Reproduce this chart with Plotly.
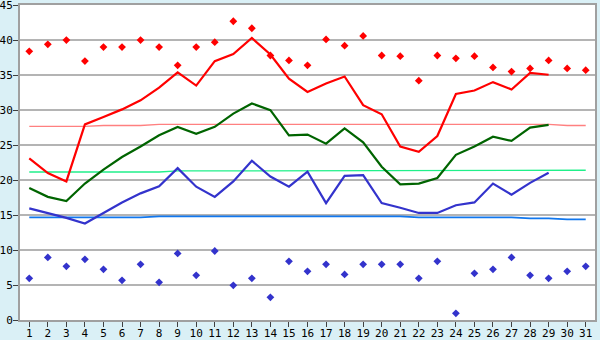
import plotly.graph_objects as go

days = list(range(1, 32))

max_temp = [38.4, 39.4, 40.0, 37.0, 39.0, 39.0, 40.0, 39.0, 36.4, 39.0,
            39.7, 42.7, 41.7, 37.8, 37.1, 36.4, 40.1, 39.2, 40.6, 37.8,
            37.7, 34.2, 37.8, 37.4, 37.7, 36.1, 35.5, 35.95, 37.1, 35.95, 35.7]
min_temp = [5.95, 8.95, 7.67, 8.67, 7.24, 5.67, 7.95, 5.38, 9.52, 6.38,
            9.86, 4.95, 5.95, 3.24, 8.38, 6.95, 7.95, 6.52, 7.95, 7.95,
            7.95, 5.95, 8.38, 0.95, 6.67, 7.24, 8.95, 6.38, 5.95, 6.95, 7.67]
day_max = [23.1, 21.0, 19.8, 27.95, 29.0, 30.1, 31.4, 33.2, 35.4, 33.5,
           37.0, 38.0, 40.3, 37.95, 34.5, 32.6, 33.8, 34.8, 30.7, 29.4,
           24.8, 24.05, 26.3, 32.3, 32.8, 34.0, 32.95, 35.3, 35.05]
day_mean = [18.86, 17.6, 17.0, 19.5, 21.5, 23.3, 24.8, 26.4, 27.6, 26.6,
            27.6, 29.5, 30.95, 30.0, 26.4, 26.5, 25.2, 27.4, 25.4, 21.9,
            19.4, 19.5, 20.3, 23.6, 24.8, 26.2, 25.6, 27.5, 27.9]
day_min = [15.95, 15.3, 14.6, 13.8, 15.3, 16.8, 18.1, 19.1, 21.7, 19.05,
           17.6, 19.8, 22.76, 20.5, 19.05, 21.2, 16.7, 20.6, 20.7, 16.7,
           16.05, 15.3, 15.3, 16.4, 16.8, 19.5, 17.9, 19.6, 21.05]
normal_max = [27.67] * 4 + [27.8] * 3 + [27.95] * 22 + [27.8] * 2
normal_mean = [21.15] * 8 + [21.3] * 6 + [21.4] * 17
normal_min = [14.67] * 7 + [14.81] * 14 + [14.67] * 6 + [14.52] * 2 + [14.38] * 2
y_ticks = [0, 5, 10, 15, 20, 25, 30, 35, 40, 45]

fig = go.Figure()

fig.add_trace(go.Scatter(x=days, y=normal_max, mode="lines",
                         line=dict(color="#FF8080", width=1.3), hoverinfo="skip"))
fig.add_trace(go.Scatter(x=days, y=normal_mean, mode="lines",
                         line=dict(color="#20F08A", width=1.3), hoverinfo="skip"))
fig.add_trace(go.Scatter(x=days, y=normal_min, mode="lines",
                         line=dict(color="#1177EE", width=1.6), hoverinfo="skip"))

fig.add_trace(go.Scatter(x=days[:len(day_max)], y=day_max, mode="lines",
                         line=dict(color="#FF0000", width=2.2)))
fig.add_trace(go.Scatter(x=days[:len(day_mean)], y=day_mean, mode="lines",
                         line=dict(color="#006400", width=2.2)))
fig.add_trace(go.Scatter(x=days[:len(day_min)], y=day_min, mode="lines",
                         line=dict(color="#3333CC", width=2.2)))

fig.add_trace(go.Scatter(x=days, y=max_temp, mode="markers",
                         marker=dict(symbol="diamond", size=6, color="#FF0000")))
fig.add_trace(go.Scatter(x=days, y=min_temp, mode="markers",
                         marker=dict(symbol="diamond", size=6, color="#3333CC")))

fig.update_layout(
    width=600, height=340,
    margin=dict(l=20, r=5, t=5, b=20, autoexpand=False),
    paper_bgcolor="#DAF0F6",
    plot_bgcolor="#FFFFFF",
    showlegend=False,
    font=dict(family="DejaVu Sans Mono", size=11, color="#000000"),
)
fig.update_xaxes(
    range=[0.5, 31.5], tickmode="linear", tick0=1, dtick=1,
    showgrid=False, zeroline=False, automargin=False,
    showline=True, linecolor="#A0A0A0", linewidth=2, mirror=True,
    ticks="outside", ticklen=5, tickcolor="#404040", tickwidth=1,
    tickfont=dict(family="DejaVu Sans Mono", size=11),
    ticklabeloverflow="allow", ticklabelstandoff=-3,
)
fig.update_yaxes(
    range=[0, 45.02], tickmode="array", tickvals=y_ticks,
    showgrid=True, gridcolor="#B4B4B4", gridwidth=1.5, zeroline=False, automargin=False,
    showline=True, linecolor="#A0A0A0", linewidth=2, mirror=True,
    ticks="outside", ticklen=5, tickcolor="#404040", tickwidth=1,
    tickfont=dict(family="DejaVu Sans Mono", size=11),
    ticklabeloverflow="allow", ticklabelstandoff=-2,
)

fig.write_html("out.html")
